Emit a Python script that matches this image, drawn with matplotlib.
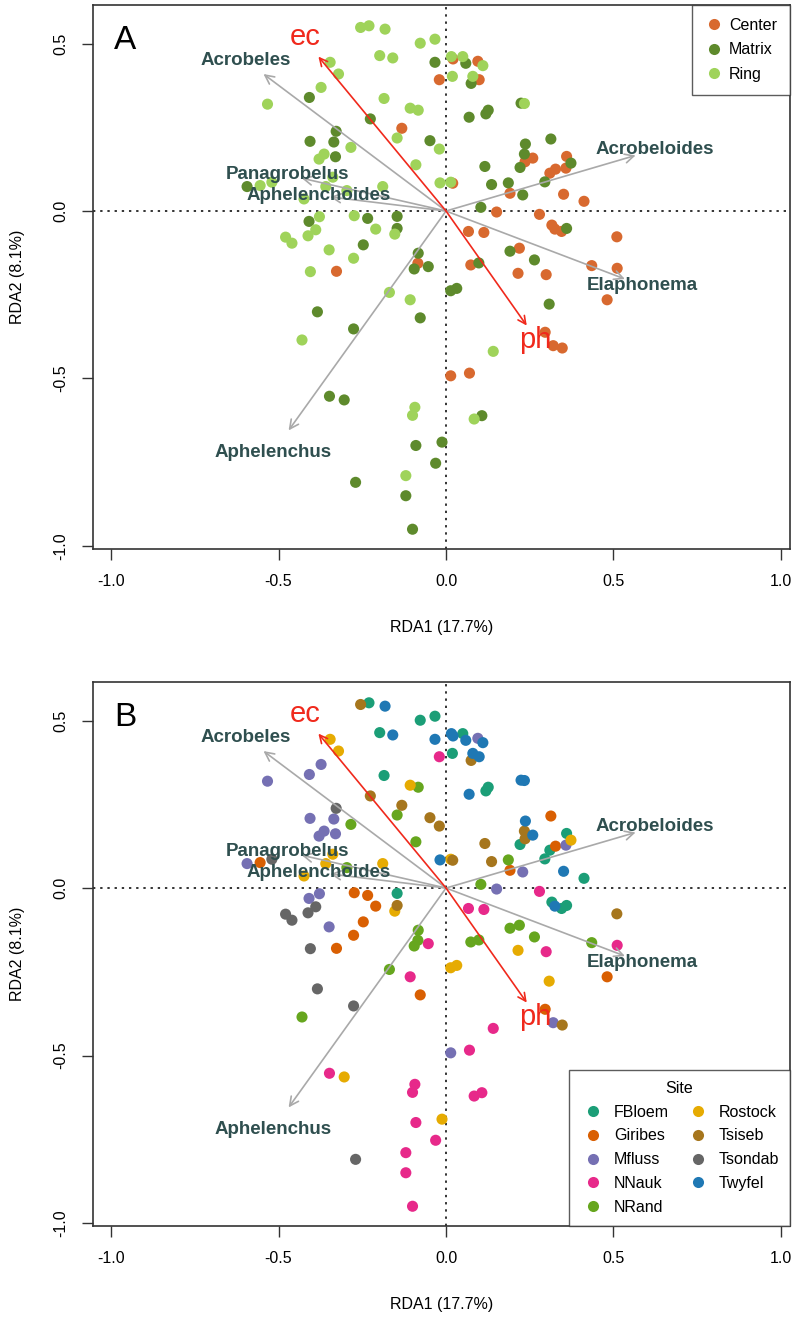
import matplotlib
matplotlib.use("Agg")
import matplotlib.pyplot as plt
from matplotlib.lines import Line2D

plt.rcParams['font.family'] = ['Liberation Sans', 'DejaVu Sans']

# --- site scores (RDA1, RDA2), zone and site of each sample ---
rda1 = [-0.255, -0.230, -0.182, -0.077, -0.033, -0.198, -0.159, -0.346, -0.033, -0.321,
        -0.373, -0.408, -0.533, -0.185, -0.107, -0.083, -0.226, -0.132, -0.146, -0.328,
        -0.406, -0.335, -0.284, -0.048, -0.364, -0.379, -0.330, -0.090, -0.594, -0.555,
        -0.520, -0.338, -0.359, -0.189, -0.296, -0.424, -0.409, -0.378, -0.274, -0.234,
        -0.146, -0.146, -0.153, -0.210, -0.389, -0.412, -0.479, -0.460, -0.247, -0.349,
        -0.276, -0.083, -0.084, -0.095, -0.053, -0.405, -0.327, -0.169, -0.107, -0.384,
        -0.077, -0.276, -0.430, -0.348, -0.304, -0.093, 0.104, 0.151, 0.279, 0.316,
        0.325, 0.345, 0.360, 0.510, 0.067, 0.113, 0.219, 0.191, 0.264, 0.098,
        0.074, 0.215, 0.299, 0.435, 0.511, 0.481, 0.014, 0.032, 0.308, 0.296,
        0.320, 0.347, 0.141, 0.014, 0.070, 0.084, 0.107, -0.012, -0.031, 0.016,
        0.021, 0.050, 0.059, 0.095, 0.110, -0.020, 0.019, 0.080, 0.099, 0.075,
        0.224, 0.234, 0.126, 0.119, 0.069, -0.020, 0.313, 0.237, 0.234, 0.259,
        0.236, 0.221, 0.360, 0.373, 0.358, 0.327, 0.310, 0.295, 0.116, 0.136,
        0.186, 0.229, 0.191, 0.351, 0.412, -0.018, 0.014, 0.020, -0.100, -0.090,
        -0.120, -0.120, -0.100, -0.270]
rda2 = [0.548, 0.553, 0.543, 0.501, 0.513, 0.464, 0.457, 0.444, 0.444, 0.409,
        0.369, 0.339, 0.319, 0.336, 0.307, 0.301, 0.275, 0.247, 0.218, 0.238,
        0.208, 0.206, 0.190, 0.210, 0.170, 0.155, 0.162, 0.138, 0.073, 0.076,
        0.086, 0.101, 0.073, 0.073, 0.061, 0.036, -0.031, -0.017, -0.014, -0.022,
        -0.016, -0.052, -0.069, -0.054, -0.056, -0.074, -0.078, -0.096, -0.101, -0.116,
        -0.141, -0.126, -0.156, -0.173, -0.166, -0.181, -0.180, -0.243, -0.265, -0.301,
        -0.319, -0.352, -0.385, -0.553, -0.564, -0.586, 0.011, -0.003, -0.010, -0.042,
        -0.054, -0.061, -0.052, -0.077, -0.061, -0.064, -0.111, -0.120, -0.146, -0.155,
        -0.161, -0.186, -0.190, -0.163, -0.171, -0.265, -0.238, -0.231, -0.278, -0.362,
        -0.402, -0.409, -0.419, -0.492, -0.484, -0.621, -0.611, -0.690, -0.753, 0.461,
        0.454, 0.461, 0.441, 0.447, 0.434, 0.392, 0.402, 0.402, 0.392, 0.381,
        0.322, 0.321, 0.301, 0.290, 0.280, 0.185, 0.215, 0.200, 0.170, 0.158,
        0.147, 0.130, 0.163, 0.143, 0.128, 0.125, 0.113, 0.087, 0.133, 0.079,
        0.084, 0.048, 0.053, 0.050, 0.029, 0.084, 0.086, 0.083, -0.610, -0.700,
        -0.790, -0.850, -0.950, -0.810]
zone = ["R", "R", "R", "R", "R", "R", "R", "R", "M", "R",
        "R", "M", "R", "R", "R", "R", "M", "C", "R", "M",
        "M", "M", "R", "M", "R", "R", "M", "R", "M", "R",
        "R", "R", "R", "R", "R", "R", "M", "R", "R", "M",
        "M", "M", "R", "R", "R", "R", "R", "R", "M", "R",
        "R", "M", "C", "M", "M", "R", "C", "R", "R", "M",
        "M", "M", "R", "M", "M", "R", "M", "C", "C", "C",
        "C", "C", "M", "C", "C", "C", "C", "M", "M", "M",
        "C", "C", "C", "C", "C", "C", "M", "M", "M", "C",
        "C", "C", "R", "C", "C", "R", "M", "M", "M", "R",
        "C", "R", "M", "C", "R", "C", "R", "R", "C", "M",
        "M", "R", "M", "M", "M", "R", "M", "M", "M", "C",
        "C", "M", "C", "M", "C", "C", "C", "M", "M", "M",
        "M", "M", "C", "C", "C", "R", "R", "C", "R", "M",
        "R", "M", "M", "M"]
site = ["Tsiseb", "FBloem", "Twyfel", "FBloem", "FBloem", "FBloem", "Twyfel", "Rostock", "Twyfel", "Rostock",
        "Mfluss", "Mfluss", "Mfluss", "FBloem", "Rostock", "NRand", "Tsiseb", "Tsiseb", "NRand", "Tsondab",
        "Mfluss", "Mfluss", "NRand", "Tsiseb", "Mfluss", "Mfluss", "Mfluss", "NRand", "Mfluss", "Giribes",
        "Tsondab", "Rostock", "Rostock", "Rostock", "NRand", "Rostock", "Mfluss", "Mfluss", "Giribes", "Giribes",
        "FBloem", "Tsiseb", "Rostock", "Giribes", "Tsondab", "Tsondab", "Tsondab", "Tsondab", "Giribes", "Mfluss",
        "Giribes", "NRand", "NRand", "NRand", "NNauk", "Tsondab", "Giribes", "NRand", "NNauk", "Tsondab",
        "Giribes", "Tsondab", "NRand", "NNauk", "Rostock", "NNauk", "NRand", "Mfluss", "NNauk", "FBloem",
        "Twyfel", "FBloem", "FBloem", "Tsiseb", "NNauk", "NNauk", "NRand", "NRand", "NRand", "NRand",
        "NRand", "Rostock", "NNauk", "NRand", "NNauk", "Giribes", "Rostock", "Rostock", "Rostock", "Giribes",
        "Mfluss", "Tsiseb", "NNauk", "Mfluss", "NNauk", "NNauk", "NNauk", "Rostock", "NNauk", "Twyfel",
        "Twyfel", "FBloem", "Twyfel", "Mfluss", "Twyfel", "NNauk", "FBloem", "Twyfel", "Twyfel", "Tsiseb",
        "Twyfel", "Twyfel", "FBloem", "FBloem", "Twyfel", "Tsiseb", "Giribes", "Twyfel", "Tsiseb", "Twyfel",
        "Tsiseb", "FBloem", "FBloem", "Rostock", "Mfluss", "Giribes", "FBloem", "FBloem", "Tsiseb", "Tsiseb",
        "NRand", "Mfluss", "Giribes", "Twyfel", "FBloem", "Twyfel", "Rostock", "Tsiseb", "NNauk", "NNauk",
        "NNauk", "NNauk", "NNauk", "Tsondab"]

# --- biplot arrows ---
species = ["Acrobeles", "Panagrobelus", "Aphelenchoides", "Acrobeloides", "Elaphonema", "Aphelenchus"]
sp_x = [-0.545, -0.431, -0.346, 0.566, 0.534, -0.470]
sp_y = [0.409, 0.098, 0.042, 0.166, -0.203, -0.655]
env = ["ec", "ph"]
env_x = [-0.381, 0.241]
env_y = [0.461, -0.342]

zone_names = ["Center", "Matrix", "Ring"]
zone_colors = ["#d8692f", "#5e8a2c", "#9fd35a"]
site_names = ["FBloem", "Giribes", "Mfluss", "NNauk", "NRand",
              "Rostock", "Tsiseb", "Tsondab", "Twyfel"]
site_colors = ["#1b9e77", "#d95f02", "#7570b3", "#e7298a", "#66a61e",
               "#e6ab02", "#a6761d", "#666666", "#1f78b4"]

zone_map = {"C": "Center", "M": "Matrix", "R": "Ring"}
zone_full = [zone_map[z] for z in zone]

fig = plt.figure(figsize=(8, 13.2), dpi=100)
ax_a = fig.add_axes([0.11625, 0.5841, 0.87125, 0.4121])
ax_b = fig.add_axes([0.11625, 0.0712, 0.87125, 0.4121])


def draw_panel(ax, groups, names, colors, letter):
    for name, col in zip(names, colors):
        xs = [x for x, g in zip(rda1, groups) if g == name]
        ys = [y for y, g in zip(rda2, groups) if g == name]
        ax.scatter(xs, ys, s=64, color=col, edgecolors='none', zorder=3)
    ax.axhline(0, color='#333333', ls=(0, (1.2, 2.5)), lw=1.4, zorder=1)
    ax.axvline(0, color='#333333', ls=(0, (1.2, 2.5)), lw=1.4, zorder=1)
    for lab, x, y in zip(species, sp_x, sp_y):
        ax.annotate("", xy=(x, y), xytext=(0, 0),
                    arrowprops=dict(arrowstyle='->', color='#a9a9a9', lw=1.2,
                                    mutation_scale=16, shrinkA=0, shrinkB=0), zorder=4)
        ax.text(x * 1.1, y * 1.1, lab, color='#2f4f4f', fontsize=13.5, fontweight='bold',
                ha='center', va='center', zorder=5)
    for lab, x, y in zip(env, env_x, env_y):
        ax.annotate("", xy=(x, y), xytext=(0, 0),
                    arrowprops=dict(arrowstyle='->', color='#f0291c', lw=1.2,
                                    mutation_scale=14, shrinkA=0, shrinkB=0), zorder=4)
        ax.text(x * 1.1, y * 1.13, lab, color='#f0291c', fontsize=21,
                ha='center', va='center', zorder=5)
    ax.set_xlim(-1.054, 1.027)
    ax.set_ylim(-1.009, 0.615)
    ax.set_xticks([-1.0, -0.5, 0.0, 0.5, 1.0])
    ax.set_yticks([-1.0, -0.5, 0.0, 0.5])
    ax.set_xticklabels(["-1.0", "-0.5", "0.0", "0.5", "1.0"])
    ax.set_yticklabels(["-1.0", "-0.5", "0.0", "0.5"], rotation=90, va='center')
    ax.tick_params(direction='out', length=8, width=1, labelsize=11.5, color='#333333', pad=10)
    for sp in ax.spines.values():
        sp.set_color('#333333')
        sp.set_linewidth(1.2)
    ax.set_xlabel("RDA1 (17.7%)", fontsize=11.5, labelpad=22)
    ax.set_ylabel("RDA2 (8.1%)", fontsize=11.5, labelpad=20)
    ax.text(-0.958, 0.51, letter, fontsize=24, va='center', ha='center')


draw_panel(ax_a, zone_full, zone_names, zone_colors, "A")
draw_panel(ax_b, site, site_names, site_colors, "B")

handles_a = [Line2D([], [], ls='none', marker='o', ms=8, color=c, mec='none') for c in zone_colors]
leg_a = ax_a.legend(handles_a, zone_names, loc='upper right', fontsize=11.5, frameon=True,
                    fancybox=False, edgecolor='#333333', handletextpad=0.35,
                    borderaxespad=0, labelspacing=0.6, handlelength=1.2,
                    borderpad=0.8)
leg_a.get_frame().set_linewidth(1.0)

handles_b = [Line2D([], [], ls='none', marker='o', ms=8, color=c, mec='none') for c in site_colors]
leg_b = ax_b.legend(handles_b, site_names, loc='lower right', fontsize=11.5, ncol=2,
                    title="Site", title_fontsize=11.5, frameon=True, fancybox=False,
                    edgecolor='#333333', handletextpad=0.5, borderaxespad=0,
                    labelspacing=0.55, handlelength=1.6, columnspacing=1.0,
                    borderpad=0.7)
leg_b.get_frame().set_linewidth(1.0)

fig.savefig("out.png", dpi=100)
